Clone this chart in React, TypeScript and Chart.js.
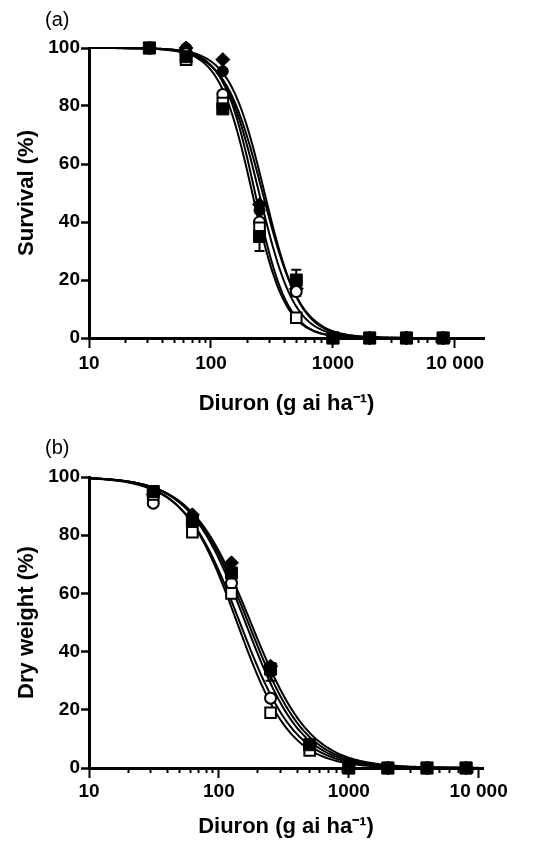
import React, { useEffect, useRef } from 'react';
import { Chart, registerables } from 'chart.js';
Chart.register(...registerables);

// ---------- data ----------
const doses = [31.25, 62.5, 125, 250, 500, 1000, 2000, 4000, 8000];
const majorTicks = [10, 100, 1000, 10000];
const majorTickLabels = ['10', '100', '1000', '10 000'];
const minorMultipliers = [2, 3, 4, 5, 6, 7, 8, 9];
const yTicks = [0, 20, 40, 60, 80, 100];

// series order: filled square, open square, open circle, filled circle, filled diamond
const seriesKeys = ['filledSquare', 'openSquare', 'openCircle', 'filledCircle', 'filledDiamond'];

// Panel (a) survival (%)
const survFilledSquare = [100, 97, 79, 35, 20, 0, 0, 0, 0];
const survOpenSquare = [100, 96, 81, 38, 7, 0, 0, 0, 0];
const survOpenCircle = [100, 98, 84, 40, 16, 0, 0, 0, 0];
const survFilledCircle = [100, 100, 92, 44, 19, 0, 0, 0, 0];
const survFilledDiamond = [100, 100, 96, 46, 17, 0, 0, 0, 0];
const survErrFilledSquare = [0, 0, 0, 5, 0, 0, 0, 0, 0];
const survErrFilledCircle = [0, 0, 0, 0, 4.5, 0, 0, 0, 0];
// fitted log-logistic curve parameters (a)
const survED50 = [218, 230, 248, 265, 275];
const survSlope = [3.2, 3.3, 3.0, 2.8, 3.0];

// Panel (b) dry weight (%)
const dwFilledSquare = [95, 85, 67, 34, 8, 0, 0, 0, 0];
const dwOpenSquare = [94, 81, 60, 19, 6, 0, 0, 0, 0];
const dwOpenCircle = [91, 84, 63.5, 24, 7, 0, 0, 0, 0];
const dwFilledCircle = [93, 86, 66, 33, 8, 0, 0, 0, 0];
const dwFilledDiamond = [94, 87, 70.5, 35, 8, 0, 0, 0, 0];
const dwErrFilledSquare = [0, 0, 0, 2, 0, 0, 0, 0, 0];
const dwErrFilledCircle = [0, 0, 0, 3, 0, 0, 0, 0, 0];
// fitted log-logistic curve parameters (b)
const dwED50 = [160, 138, 145, 168, 176];
const dwSlope = [2.0, 2.1, 2.0, 1.95, 1.9];

// ---------- helpers ----------
const FONT = '"Liberation Sans", Arial, Helvetica, sans-serif';
const xTickValues: number[] = [];
majorTicks.forEach((m, i) => {
  xTickValues.push(m);
  if (i < majorTicks.length - 1) minorMultipliers.forEach((k) => xTickValues.push(m * k));
});
xTickValues.sort((a, b) => a - b);

const curveSampleX: number[] = [];
for (let i = 0; i <= 240; i++) curveSampleX.push(Math.pow(10, 1 + (3 * i) / 240));

function curvePoints(ed50: number, slope: number) {
  return curveSampleX.map((x) => ({ x, y: 100 / (1 + Math.pow(x / ed50, slope)) }));
}

const markerStyles: Record<string, any> = {
  filledSquare: { pointStyle: 'rect', pointRadius: 8.5, pointBackgroundColor: '#000', pointBorderColor: '#000', pointBorderWidth: 1 },
  openSquare: { pointStyle: 'rect', pointRadius: 7.5, pointBackgroundColor: '#fff', pointBorderColor: '#000', pointBorderWidth: 2 },
  openCircle: { pointStyle: 'circle', pointRadius: 5.5, pointBackgroundColor: '#fff', pointBorderColor: '#000', pointBorderWidth: 2 },
  filledCircle: { pointStyle: 'circle', pointRadius: 5.5, pointBackgroundColor: '#000', pointBorderColor: '#000', pointBorderWidth: 1 },
  filledDiamond: { pointStyle: 'rectRot', pointRadius: 7, pointBackgroundColor: '#000', pointBorderColor: '#000', pointBorderWidth: 1 },
};
const markerOrder: Record<string, number> = { filledSquare: 0, openSquare: 1, openCircle: 2, filledCircle: 3, filledDiamond: 4 };

const errorBarPlugin = {
  id: 'errorBars',
  beforeDatasetsDraw(chart: any) {
    const ctx = chart.ctx;
    const xs = chart.scales.x;
    const ys = chart.scales.y;
    ctx.save();
    ctx.strokeStyle = '#000';
    ctx.lineWidth = 2;
    chart.data.datasets.forEach((ds: any) => {
      if (!ds.errors) return;
      ds.data.forEach((p: any, i: number) => {
        const e = ds.errors[i];
        if (!e) return;
        const px = xs.getPixelForValue(p.x);
        const yt = ys.getPixelForValue(p.y + e);
        const yb = ys.getPixelForValue(p.y - e);
        ctx.beginPath();
        ctx.moveTo(px, yt);
        ctx.lineTo(px, yb);
        ctx.moveTo(px - 5, yt);
        ctx.lineTo(px + 5, yt);
        ctx.moveTo(px - 5, yb);
        ctx.lineTo(px + 5, yb);
        ctx.stroke();
      });
    });
    ctx.restore();
  },
};

const panelLabelPlugin = {
  id: 'panelLabel',
  afterDraw(chart: any, _args: any, opts: any) {
    const ctx = chart.ctx;
    ctx.save();
    ctx.fillStyle = '#000';
    ctx.font = `20px ${FONT}`;
    ctx.textBaseline = 'middle';
    ctx.textAlign = 'left';
    ctx.fillText(opts.text, opts.x, opts.y);
    ctx.restore();
  },
};

type PanelProps = {
  label: string;
  labelY: number;
  yTitle: string;
  values: number[][];
  errors: (number[] | null)[];
  ed50: number[];
  slope: number[];
  xMax: number;
  padTop: number;
  padRight: number;
  xAxisHeight: number;
  xTitlePadBottom: number;
  xTickPad: number;
};

function Panel(props: PanelProps) {
  const ref = useRef<HTMLCanvasElement>(null);
  useEffect(() => {
    if (!ref.current) return;
    const datasets: any[] = [];
    seriesKeys.forEach((key, si) => {
      datasets.push({
        label: key,
        data: doses.map((d, i) => ({ x: d, y: props.values[si][i] })),
        errors: props.errors[si] || undefined,
        showLine: false,
        clip: false,
        order: markerOrder[key],
        ...markerStyles[key],
      });
    });
    seriesKeys.forEach((key, si) => {
      datasets.push({
        label: key + ' fit',
        data: curvePoints(props.ed50[si], props.slope[si]),
        showLine: true,
        pointRadius: 0,
        borderColor: '#000',
        borderWidth: 2,
        fill: false,
        tension: 0,
        order: 10 + si,
        clip: false,
      });
    });
    const tickFont = { family: FONT, size: 19, weight: 'bold' as const };
    const titleFont = { family: FONT, size: 22, weight: 'bold' as const };
    const chart = new Chart(ref.current, {
      type: 'scatter',
      data: { datasets },
      plugins: [errorBarPlugin, panelLabelPlugin],
      options: {
        animation: false,
        responsive: false,
        devicePixelRatio: 1,
        events: [],
        layout: { padding: { left: 0, right: props.padRight, top: props.padTop, bottom: 0 } },
        plugins: {
          legend: { display: false },
          tooltip: { enabled: false },
          panelLabel: { text: props.label, x: 45, y: props.labelY },
        } as any,
        scales: {
          x: {
            type: 'logarithmic',
            min: 10,
            max: props.xMax,
            position: 'bottom',
            afterBuildTicks: (s: any) => {
              s.ticks = xTickValues.map((v) => ({ value: v }));
            },
            afterFit: (s: any) => {
              s.height = props.xAxisHeight;
            },
            ticks: {
              autoSkip: false,
              maxRotation: 0,
              minRotation: 0,
              padding: props.xTickPad,
              color: '#000',
              font: tickFont,
              callback: (v: any) => {
                const i = majorTicks.indexOf(Number(v));
                return i >= 0 ? majorTickLabels[i] : '';
              },
            },
            grid: {
              drawOnChartArea: false,
              drawTicks: true,
              tickLength: 10,
              tickWidth: 2,
              tickColor: '#000',
              tickBorderDash: (c: any) => (c.tick && majorTicks.indexOf(c.tick.value) < 0 ? [3, 30] : []),
            } as any,
            border: { display: true, width: 3, color: '#000' },
            title: {
              display: true,
              text: 'Diuron (g ai ha⁻¹)',
              color: '#000',
              font: titleFont,
              padding: { top: 0, bottom: props.xTitlePadBottom },
            },
          } as any,
          y: {
            min: 0,
            max: 100,
            afterBuildTicks: (s: any) => {
              s.ticks = yTicks.map((v) => ({ value: v }));
            },
            afterFit: (s: any) => {
              s.width = 89;
            },
            ticks: { padding: 1, color: '#000', font: tickFont },
            grid: { drawOnChartArea: false, drawTicks: true, tickLength: 8, tickWidth: 2.5, tickColor: '#000' },
            border: { display: true, width: 3, color: '#000' },
            title: {
              display: true,
              text: props.yTitle,
              color: '#000',
              font: titleFont,
              padding: { top: 14, bottom: 0 },
            },
          } as any,
        },
      },
    });
    return () => chart.destroy();
  }, []);
  return <canvas ref={ref} width={543} height={424} style={{ display: 'block', width: 543, height: 424 }} />;
}

export default function App() {
  return (
    <div style={{ position: 'absolute', left: 0, top: 0, width: 543, height: 848, background: '#fff' }}>
      <Panel
        label="(a)"
        labelY={20}
        yTitle="Survival (%)"
        values={[survFilledSquare, survOpenSquare, survOpenCircle, survFilledCircle, survFilledDiamond]}
        errors={[survErrFilledSquare, null, null, survErrFilledCircle, null]}
        ed50={survED50}
        slope={survSlope}
        xMax={17300}
        padTop={48}
        padRight={59}
        xAxisHeight={86}
        xTitlePadBottom={7}
        xTickPad={4}
      />
      <Panel
        label="(b)"
        labelY={24}
        yTitle="Dry weight (%)"
        values={[dwFilledSquare, dwOpenSquare, dwOpenCircle, dwFilledCircle, dwFilledDiamond]}
        errors={[dwErrFilledSquare, null, null, dwErrFilledCircle, null]}
        ed50={dwED50}
        slope={dwSlope}
        xMax={10800}
        padTop={53}
        padRight={60}
        xAxisHeight={80}
        xTitlePadBottom={8}
        xTickPad={2}
      />
    </div>
  );
}
